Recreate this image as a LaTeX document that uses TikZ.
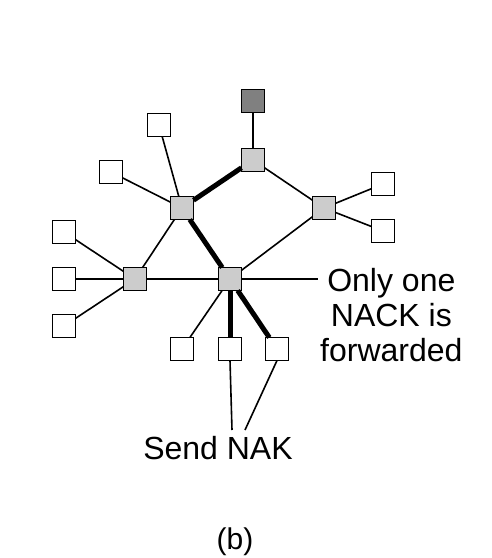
\documentclass[tikz,border=0pt]{standalone}
\usepackage{fontspec}
\setmainfont{Liberation Sans}
\definecolor{routergray}{RGB}{204,204,204}
\definecolor{sourcegray}{RGB}{128,128,128}
\begin{document}
\begin{tikzpicture}[x=1pt,y=-1pt,
  host/.style={draw=black,line width=1.5pt,fill=white,minimum size=23pt,inner sep=0pt,outer sep=0pt},
  router/.style={host,fill=routergray},
  source/.style={host,fill=sourcegray},
  thin/.style={line width=1.6pt},
  thick/.style={line width=5pt},
  lbl/.style={font=\fontsize{32}{35}\selectfont,inner sep=0pt,align=center}]
\useasboundingbox (0,0) rectangle (492,558);
% nodes
\node[source] (src) at (253,101) {};
\node[router] (rt) at (253,160) {};
\node[router] (rl) at (182,208) {};
\node[router] (rr) at (324,208) {};
\node[router] (rll) at (135,279) {};
\node[router] (rc) at (230,279) {};
\node[host] (h1) at (159,125) {};
\node[host] (h2) at (111,172) {};
\node[host] (h3) at (383,184) {};
\node[host] (h4) at (383,231) {};
\node[host] (h5) at (64,232) {};
\node[host] (h6) at (64,279) {};
\node[host] (h7) at (64,326) {};
\node[host] (b1) at (182,349) {};
\node[host] (b2) at (230,349) {};
\node[host] (b3) at (277,349) {};
\coordinate (lend) at (318,279);
\coordinate (s1) at (232,430);
\coordinate (s2) at (245,430);
% edges
\draw[thin] (src) -- (rt);
\draw[thick] (rt) -- (rl);
\draw[thin] (rt) -- (rr);
\draw[thin] (rr) -- (h3);
\draw[thin] (rr) -- (h4);
\draw[thin] (rr) -- (rc);
\draw[thin] (rl) -- (h1);
\draw[thin] (rl) -- (h2);
\draw[thick] (rl) -- (rc);
\draw[thin] (rl) -- (rll);
\draw[thin] (rll) -- (rc);
\draw[thin] (rll) -- (h5);
\draw[thin] (rll) -- (h6);
\draw[thin] (rll) -- (h7);
\draw[thin] (rc) -- (b1);
\draw[thick] (rc.south) -- (b2.north);
\draw[thick] (rc) -- (b3);
\draw[thin] (rc) -- (lend);
\draw[thin] (b2.south) -- (s1);
\draw[thin] (b3.south) -- (s2);
% labels
\node[lbl,anchor=north west] (only) at (320,268) {Only one\\NACK is\\forwarded};
\node[lbl,anchor=base] (send) at (218,459) {Send NAK};
\node[lbl,anchor=base,font=\fontsize{30}{34}\selectfont] (cap) at (235,549) {(b)};
\end{tikzpicture}
\end{document}
